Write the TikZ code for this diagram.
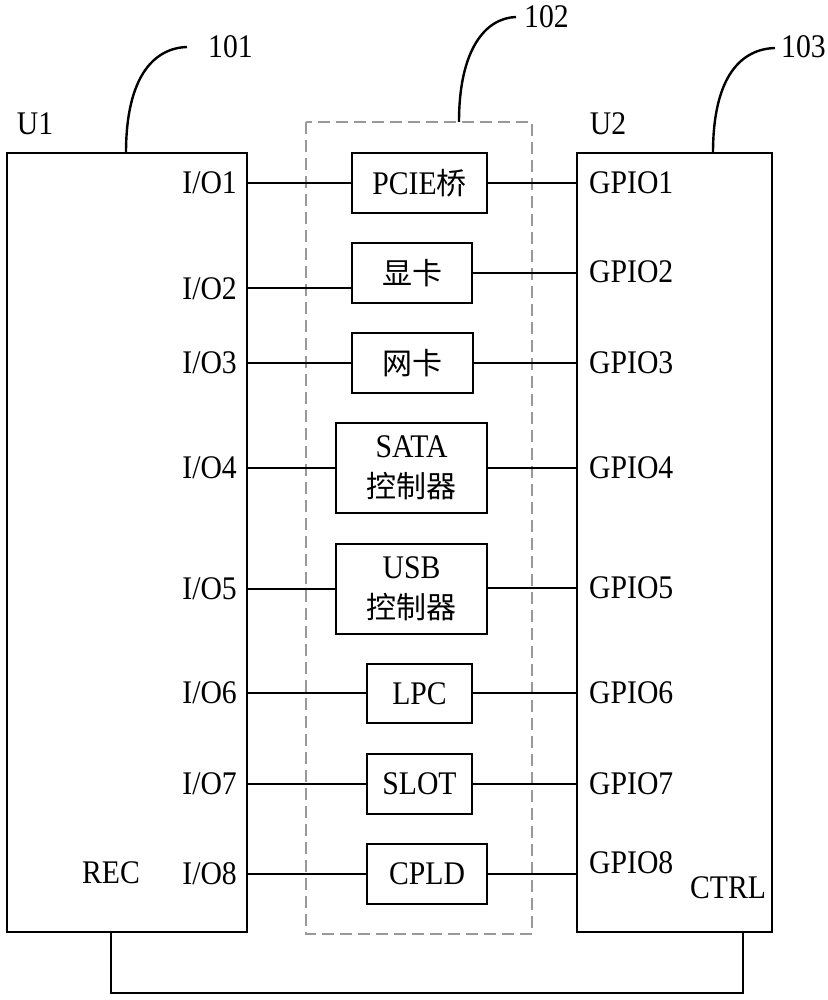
\documentclass[tikz,border=0pt]{standalone}
\usepackage{fontspec}
\setmainfont[FakeStretch=0.9]{Liberation Serif}
\newfontfamily\cjk{Noto Sans CJK SC}
\begin{document}
\begin{tikzpicture}[x=1pt,y=-1pt,
  every node/.style={font=\fontsize{33}{40}\selectfont, inner sep=0pt},
  blk/.style={draw, line width=2.2pt, minimum height=60pt, align=center},
  wire/.style={line width=2pt},
  lead/.style={line width=2.4pt},
  chip/.style={draw, line width=2.2pt},
  dash102/.style={draw=gray!80, line width=1.5pt, dash pattern=on 12pt off 6pt}]
\useasboundingbox (0,0) rectangle (827,1000);
% chips
\draw[chip] (7,153) rectangle (247,932);
\draw[chip] (577,153) rectangle (772,932);
\coordinate (u1top) at (126,153);
\coordinate (u2top) at (713,153);
\coordinate (dtop) at (459,122);
\draw[dash102] (306,122) rectangle (532,934);
% titles
\node[anchor=center] (u1) at (35,124) {U1};
\node[anchor=center] (u2) at (608,124) {U2};
\node[anchor=west] (l101) at (208,47) {101};
\node[anchor=west] (l102) at (524,17) {102};
\node[anchor=west] (l103) at (781,47) {103};
\coordinate (e101) at (187,47);
\coordinate (e102) at (516,17);
\coordinate (e103) at (775,48);
\draw[lead] (u1top) .. controls (126,75) and (155,48) .. (e101);
\draw[lead] (dtop) .. controls (459,50) and (485,18) .. (e102);
\draw[lead] (u2top) .. controls (713,75) and (742,49) .. (e103);
% middle blocks
\node[blk, minimum width=135pt] (b1) at (419.5,183) {PCIE{\cjk\fontsize{30}{32}\selectfont 桥}};
\node[blk, minimum width=120pt] (b2) at (412,273) {\cjk\fontsize{30}{32}\selectfont 显卡};
\node[blk, minimum width=121pt] (b3) at (412.5,363) {\cjk\fontsize{30}{32}\selectfont 网卡};
\node[blk, minimum width=151pt, minimum height=90pt] (b4) at (411.5,468) {SATA\\{\cjk\fontsize{30}{32}\selectfont 控制器}};
\node[blk, minimum width=151pt, minimum height=90pt] (b5) at (411.5,589) {USB\\{\cjk\fontsize{30}{32}\selectfont 控制器}};
\node[blk, minimum width=105pt, minimum height=59pt] (b6) at (419.5,693.5) {LPC};
\node[blk, minimum width=105pt] (b7) at (419.5,784) {SLOT};
\node[blk, minimum width=120pt] (b8) at (427,874) {CPLD};
% left labels
\node[anchor=east] (io1) at (237,183) {I/O1};
\node[anchor=east] (io2) at (237,289) {I/O2};
\node[anchor=east] (io3) at (237,363) {I/O3};
\node[anchor=east] (io4) at (237,468) {I/O4};
\node[anchor=east] (io5) at (237,589) {I/O5};
\node[anchor=east] (io6) at (237,693) {I/O6};
\node[anchor=east] (io7) at (237,784) {I/O7};
\node[anchor=east] (io8) at (237,874) {I/O8};
\node[anchor=center] (rec) at (111,873) {REC};
% right labels
\node[anchor=west] (g1) at (589,183) {GPIO1};
\node[anchor=west] (g2) at (589,272) {GPIO2};
\node[anchor=west] (g3) at (589,363) {GPIO3};
\node[anchor=west] (g4) at (589,468) {GPIO4};
\node[anchor=west] (g5) at (589,588) {GPIO5};
\node[anchor=west] (g6) at (589,693) {GPIO6};
\node[anchor=west] (g7) at (589,784) {GPIO7};
\node[anchor=west] (g8) at (589,863) {GPIO8};
\node[anchor=center] (ctrl) at (728,888) {CTRL};
% ports
\foreach \i/\y in {1/183,2/288,3/363,4/468,5/589,6/693,7/784,8/874}{
  \coordinate (pl\i) at (247,\y);
}
\foreach \i/\y in {1/183,2/273,3/363,4/468,5/588,6/693,7/784,8/874}{
  \coordinate (pr\i) at (577,\y);
}
\foreach \i in {1,...,8}{
  \draw[wire] (pl\i) -- (b\i.west |- pl\i);
  \draw[wire] (b\i.east |- pr\i) -- (pr\i);
}
% feedback
\coordinate (recp) at (111,932);
\coordinate (ctrlp) at (743,932);
\draw[wire] (recp) -- (111,993) -| (ctrlp);
\end{tikzpicture}
\end{document}
